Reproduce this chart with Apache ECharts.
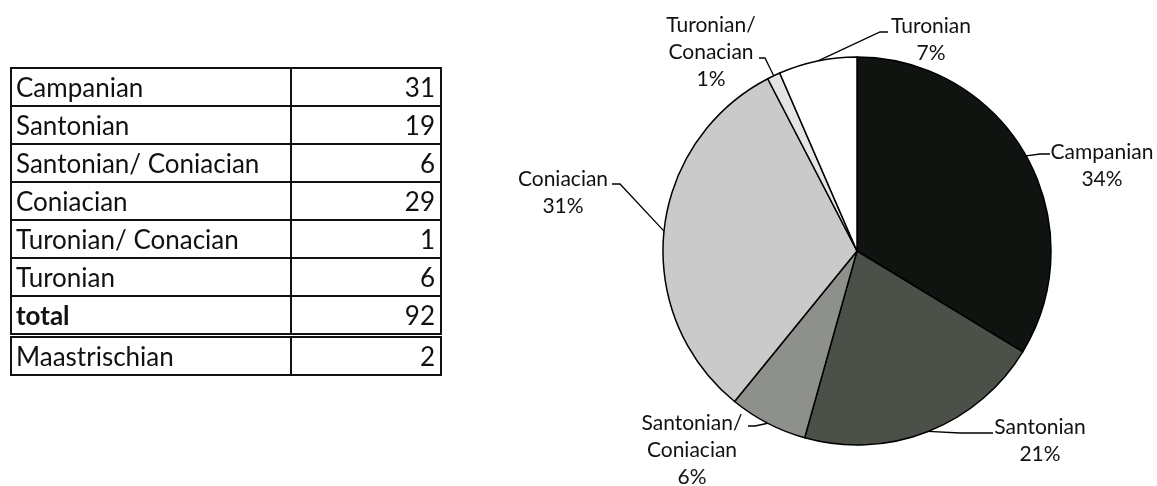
<!DOCTYPE html>
<html>
<head>
<meta charset="utf-8">
<script src="https://cdn.jsdelivr.net/npm/echarts@6/dist/echarts.min.js"></script>
<style>
    html, body { margin: 0; padding: 0; background: #fff; }
    #main { position: absolute; left: 0; top: 0; width: 1157px; height: 486px; }
    #tbl {
        position: absolute; left: 10px; top: 67px;
        border-collapse: collapse;
        font-family: Lato, "Liberation Sans", sans-serif;
        font-size: 26px; color: #111;
    }
    #tbl td { border: 2px solid #111; height: 36px; padding: 0 5px 0 4px; line-height: 36px; }
    #tbl td.n { text-align: right; }
    #tbl tr.total td { font-weight: bold; border-bottom: 5px double #111; }
    #tbl tr.total td.n { font-weight: normal; }
</style>
</head>
<body>
<div id="main"></div>
<table id="tbl"></table>
<script>
// stages in the pie (and in the table), counts per stage
const stages = ["Campanian", "Santonian", "Santonian/ Coniacian", "Coniacian", "Turonian/ Conacian", "Turonian"];
const counts = [31, 19, 6, 29, 1, 6];
// percentages as printed on the pie labels
const pctLabels = [34, 21, 6, 31, 1, 7];
const totalCount = 92;
const extraStage = "Maastrischian";
const extraCount = 2;

const sliceColors = ["#101410", "#4b5149", "#8d908b", "#cacaca", "#e4e4e4", "#ffffff"];

// table on the left
const tbl = document.getElementById("tbl");
const addRow = (name, val, cls) => {
    const tr = document.createElement("tr");
    if (cls) tr.className = cls;
    tr.innerHTML = '<td style="width:269px">' + name + '</td><td class="n" style="width:139px">' + val + "</td>";
    tbl.appendChild(tr);
};
stages.forEach((s, i) => addRow(s, counts[i]));
addRow("total", totalCount, "total");
addRow(extraStage, extraCount);

// where each label sits: text centre and the bend/end of its leader line
const labelSpots = [
    { x: 1102, y: 166, line: [[1040, 154], [1050, 154]] },
    { x: 1040, y: 441, line: [[960, 433], [993, 433]] },
    { x: 692, y: 450, line: [[755, 426], [748, 426]] },
    { x: 563, y: 193, line: [[620, 184], [612, 184]] },
    { x: 711, y: 52, line: [[765, 58], [759, 58]] },
    { x: 931, y: 40, line: [[880, 32], [888, 32]] },
];

const chart = echarts.init(document.getElementById("main"));

chart.setOption({
    animation: false,
    series: [
        {
            type: "pie",
            center: [857, 251],
            radius: 194,
            startAngle: 90,
            clockwise: true,
            data: stages.map((s, i) => ({
                name: s.replace("/ ", "/\n"),
                value: counts[i],
                itemStyle: { color: sliceColors[i] },
            })),
            itemStyle: {
                borderColor: "#000",
                borderWidth: 1.5,
            },
            label: {
                show: true,
                formatter: (p) => p.name + "\n" + pctLabels[p.dataIndex] + "%",
                fontFamily: "Lato, 'Liberation Sans', sans-serif",
                fontSize: 21,
                lineHeight: 27,
                color: "#111",
                align: "center",
                overflow: "none",
            },
            labelLine: {
                show: true,
                length: 10,
                length2: 10,
                lineStyle: { color: "#000", width: 1.3 },
            },
            labelLayout: (params) => {
                const spot = labelSpots[params.dataIndex];
                const p0 = params.labelLinePoints ? params.labelLinePoints[0] : spot.line[0];
                return {
                    x: spot.x,
                    y: spot.y,
                    width: 200,
                    align: "center",
                    verticalAlign: "middle",
                    labelLinePoints: [p0, spot.line[0], spot.line[1]],
                };
            },
            emphasis: { disabled: true },
        },
    ],
});
</script>
</body>
</html>
